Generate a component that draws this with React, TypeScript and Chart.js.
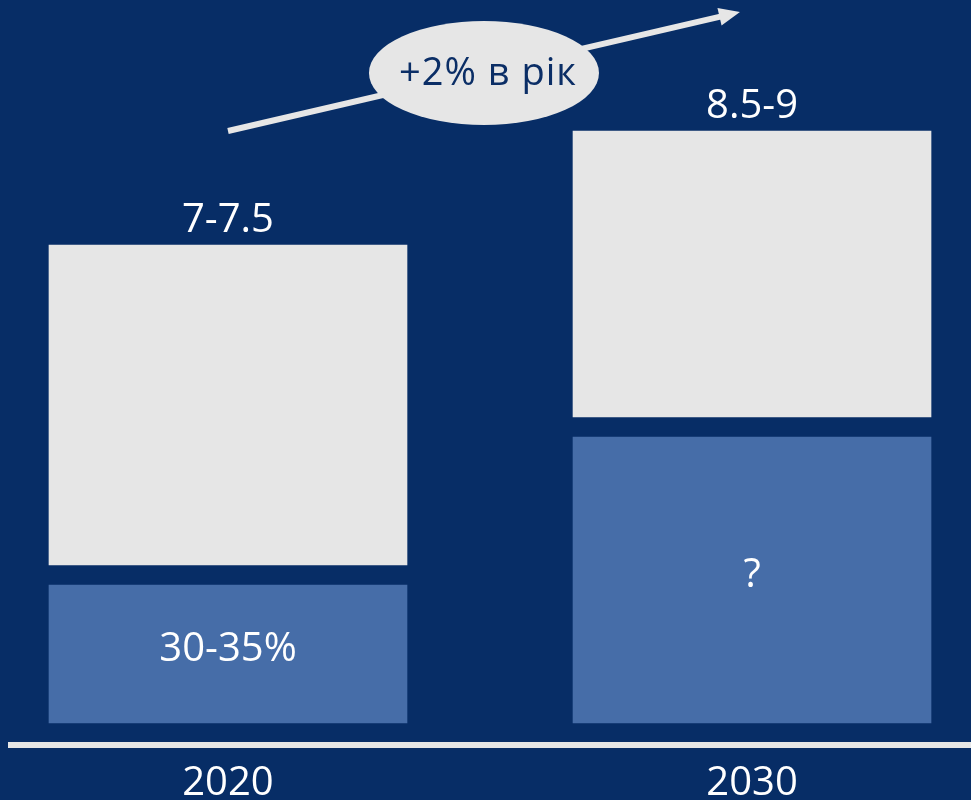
import React, { useEffect, useRef } from 'react';
import { Chart, registerables } from 'chart.js';

Chart.register(...registerables);

// ---- data (arbitrary height units) ----
const years = ['2020', '2030'];
const yearPos = [0, 1];
const blueSegment = [13.8, 28.6];
const graySegment = [32.0, 28.6];
const segmentGap = 2.0;
const baseOffset = 2.2;
const totalLabels = ['7-7.5', '8.5-9'];
const shareLabels = ['30-35%', '?'];
const growthLabel = '+2% в рік';
const arrowFrom = [0, 61.4];
const arrowTo = [0.977, 73.3];
const badgeAt = [0.4885, 67.2];

const BG = '#072D66';
const GRAY = '#E6E6E6';
const BLUE = '#466DA8';
const FONT = '"Open Sans", "Noto Sans", sans-serif';

const overlayPlugin = {
  id: 'overlay',
  afterDatasetsDraw(chart: any) {
    const { ctx, scales } = chart;
    const xs = scales.x;
    const ys = scales.y;
    const blueMeta = chart.getDatasetMeta(0);
    const grayMeta = chart.getDatasetMeta(1);
    ctx.save();
    ctx.fillStyle = '#FFFFFF';
    ctx.font = `40px ${FONT}`;
    ctx.textAlign = 'center';
    // labels above gray bars
    grayMeta.data.forEach((el: any, i: number) => {
      ctx.textBaseline = 'alphabetic';
      ctx.fillText(totalLabels[i], el.x, el.y - 13);
    });
    // labels inside blue bars
    blueMeta.data.forEach((el: any, i: number) => {
      ctx.textBaseline = 'middle';
      const mid = (el.y + el.base) / 2;
      ctx.fillText(shareLabels[i], el.x, mid - 4);
    });

    // arrow
    const x1 = xs.getPixelForValue(arrowFrom[0]);
    const y1 = ys.getPixelForValue(arrowFrom[1]);
    const x2 = xs.getPixelForValue(arrowTo[0]);
    const y2 = ys.getPixelForValue(arrowTo[1]);
    const ang = Math.atan2(y2 - y1, x2 - x1);
    const headLen = 21;
    const headHalf = 9;
    const bx = x2 - headLen * Math.cos(ang);
    const by = y2 - headLen * Math.sin(ang);
    ctx.strokeStyle = GRAY;
    ctx.lineWidth = 6;
    ctx.beginPath();
    ctx.moveTo(x1, y1);
    ctx.lineTo(bx + 2 * Math.cos(ang), by + 2 * Math.sin(ang));
    ctx.stroke();
    ctx.fillStyle = GRAY;
    ctx.beginPath();
    ctx.moveTo(x2, y2);
    ctx.lineTo(bx - headHalf * Math.sin(ang), by + headHalf * Math.cos(ang));
    ctx.lineTo(bx + headHalf * Math.sin(ang), by - headHalf * Math.cos(ang));
    ctx.closePath();
    ctx.fill();

    // badge ellipse
    const cx = xs.getPixelForValue(badgeAt[0]);
    const cy = ys.getPixelForValue(badgeAt[1]);
    ctx.beginPath();
    ctx.ellipse(cx, cy, 115, 52, 0, 0, Math.PI * 2);
    ctx.fillStyle = GRAY;
    ctx.fill();
    ctx.fillStyle = '#0B2E66';
    ctx.font = `38px ${FONT}`;
    try { (ctx as any).letterSpacing = '1px'; } catch (e) { /* ignore */ }
    ctx.textBaseline = 'middle';
    ctx.fillText(growthLabel, cx + 4, cy + 1);
    ctx.restore();
  },
};

export default function App() {
  const ref = useRef<HTMLCanvasElement | null>(null);

  useEffect(() => {
    document.body.style.margin = '0';
    document.body.style.background = BG;
    const canvas = ref.current;
    if (!canvas) return;
    const xMin = -0.4141;
    const xMax = 1.4179;
    const chart = new Chart(canvas, {
      type: 'bar',
      data: {
        datasets: [
          {
            data: years.map((_, i) => ({ x: yearPos[i], y: [baseOffset, baseOffset + blueSegment[i]] })) as any,
            backgroundColor: BLUE,
            barThickness: 358,
            grouped: false,
          } as any,
          {
            data: years.map((_, i) => ({
              x: yearPos[i],
              y: [
                baseOffset + blueSegment[i] + segmentGap,
                baseOffset + blueSegment[i] + segmentGap + graySegment[i],
              ],
            })) as any,
            backgroundColor: GRAY,
            barThickness: 358,
            grouped: false,
          } as any,
        ],
      },
      options: {
        responsive: false,
        animation: false,
        layout: { padding: { left: 11, right: 0, top: 0, bottom: 0 } },
        plugins: { legend: { display: false }, tooltip: { enabled: false } },
        scales: {
          x: {
            type: 'linear',
            min: xMin,
            max: xMax,
            offset: false,
            grid: { display: false },
            border: { display: true, color: GRAY, width: 6 },
            afterBuildTicks: (scale: any) => {
              scale.ticks = yearPos.map((v) => ({ value: v }));
            },
            afterFit: (scale: any) => {
              scale.height = 55;
            },
            ticks: {
              color: '#FFFFFF',
              font: { family: FONT, size: 40 },
              padding: 7,
              maxRotation: 0,
              autoSkip: false,
              callback: (v: any) => {
                const idx = yearPos.indexOf(Number(v));
                return idx >= 0 ? years[idx] : '';
              },
            },
          },
          y: {
            display: false,
            min: 0,
            max: 74.5,
          },
        },
      } as any,
      plugins: [overlayPlugin],
    });
    return () => chart.destroy();
  }, []);

  return (
    <div style={{ width: 971, height: 800, background: BG, overflow: 'hidden' }}>
      <canvas ref={ref} width={971} height={800} style={{ display: 'block' }} />
    </div>
  );
}
